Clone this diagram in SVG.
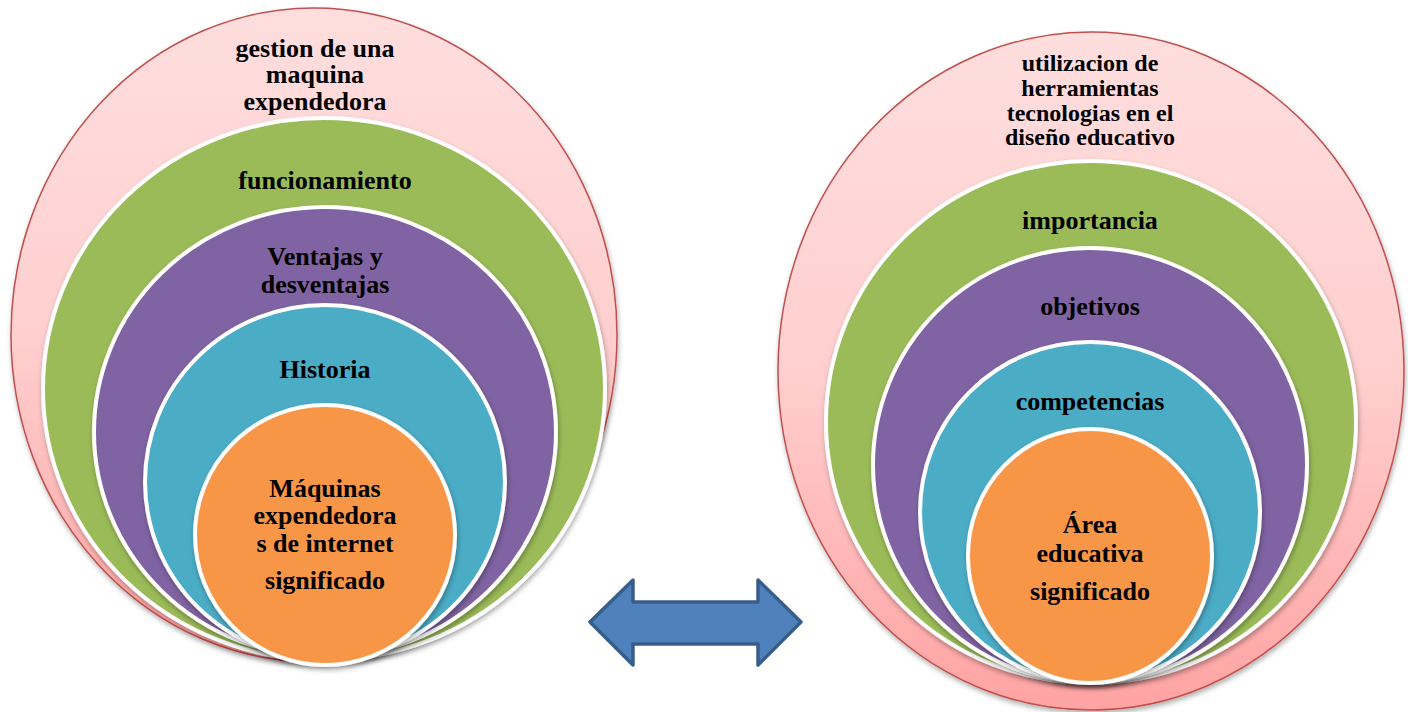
<svg xmlns="http://www.w3.org/2000/svg" width="1408" height="712" viewBox="0 0 1408 712">
<defs>
<linearGradient id="pinkGrad" x1="0" y1="0" x2="0" y2="1">
<stop offset="0" stop-color="#FFDEDE"/>
<stop offset="0.5" stop-color="#FFCFCF"/>
<stop offset="1" stop-color="#FFA3A3"/>
</linearGradient>
<filter id="shadow" x="-10%" y="-10%" width="120%" height="125%">
<feDropShadow dx="1" dy="3" stdDeviation="2.5" flood-color="#000" flood-opacity="0.3"/>
</filter>
</defs>
<style>
.outer{fill:url(#pinkGrad);stroke:#C0504D;stroke-width:1.5;filter:url(#shadow)}
.ring{stroke:#FFFFFF;stroke-width:4;filter:url(#shadow)}
.green{fill:#9BBB59}
.purple{fill:#8064A2}
.teal{fill:#4BACC6}
.orange{fill:#F79646}
text{font-family:"Liberation Serif","Times New Roman",serif;font-weight:bold;fill:#000;text-anchor:middle}
.t26{font-size:26px}
.t24{font-size:24px}
.arrow{fill:#4F81BD;stroke:#385D8A;stroke-width:3.5;stroke-linejoin:round}
</style>

<g id="left-diagram">
<g id="left-outer">
<ellipse class="outer" cx="314" cy="335" rx="303" ry="327"/>
<text class="t26" x="315" y="57">gestion de una</text>
<text class="t26" x="315" y="83">maquina</text>
<text class="t26" x="315" y="110">expendedora</text>
</g>
<g id="left-funcionamiento">
<ellipse class="ring green" cx="324" cy="389" rx="281" ry="271"/>
<text class="t26" x="325" y="189">funcionamiento</text>
</g>
<g id="left-ventajas">
<ellipse class="ring purple" cx="325" cy="432" rx="231" ry="225"/>
<text class="t26" x="325" y="265">Ventajas y</text>
<text class="t26" x="325" y="293">desventajas</text>
</g>
<g id="left-historia">
<ellipse class="ring teal" cx="325" cy="482" rx="180" ry="177"/>
<text class="t26" x="325" y="378">Historia</text>
</g>
<g id="left-core">
<ellipse class="ring orange" cx="325" cy="535" rx="130" ry="130"/>
<text class="t26" x="325" y="497">Máquinas</text>
<text class="t26" x="325" y="524">expendedora</text>
<text class="t26" x="325" y="552">s de internet</text>
<text class="t26" x="325" y="589">significado</text>
</g>
</g>

<g id="right-diagram">
<g id="right-outer">
<ellipse class="outer" cx="1091" cy="371" rx="313" ry="339"/>
<text class="t24" x="1090" y="71">utilizacion de</text>
<text class="t24" x="1090" y="96">herramientas</text>
<text class="t24" x="1090" y="121">tecnologias en el</text>
<text class="t24" x="1090" y="145">diseño educativo</text>
</g>
<g id="right-importancia">
<ellipse class="ring green" cx="1091" cy="422" rx="265" ry="261"/>
<text class="t26" x="1090" y="229">importancia</text>
</g>
<g id="right-objetivos">
<ellipse class="ring purple" cx="1090" cy="465" rx="217" ry="217"/>
<text class="t26" x="1090" y="315">objetivos</text>
</g>
<g id="right-competencias">
<ellipse class="ring teal" cx="1090" cy="512" rx="170" ry="170"/>
<text class="t26" x="1090" y="410">competencias</text>
</g>
<g id="right-core">
<ellipse class="ring orange" cx="1090" cy="556" rx="122" ry="127"/>
<text class="t26" x="1090" y="533">Área</text>
<text class="t26" x="1090" y="562">educativa</text>
<text class="t26" x="1090" y="600">significado</text>
</g>
</g>

<g id="connectors">
<polygon class="arrow" points="590,622 633,580 633,602 758,602 758,580 801,622 758,665 758,644 633,644 633,665"/>
</g>
</svg>
